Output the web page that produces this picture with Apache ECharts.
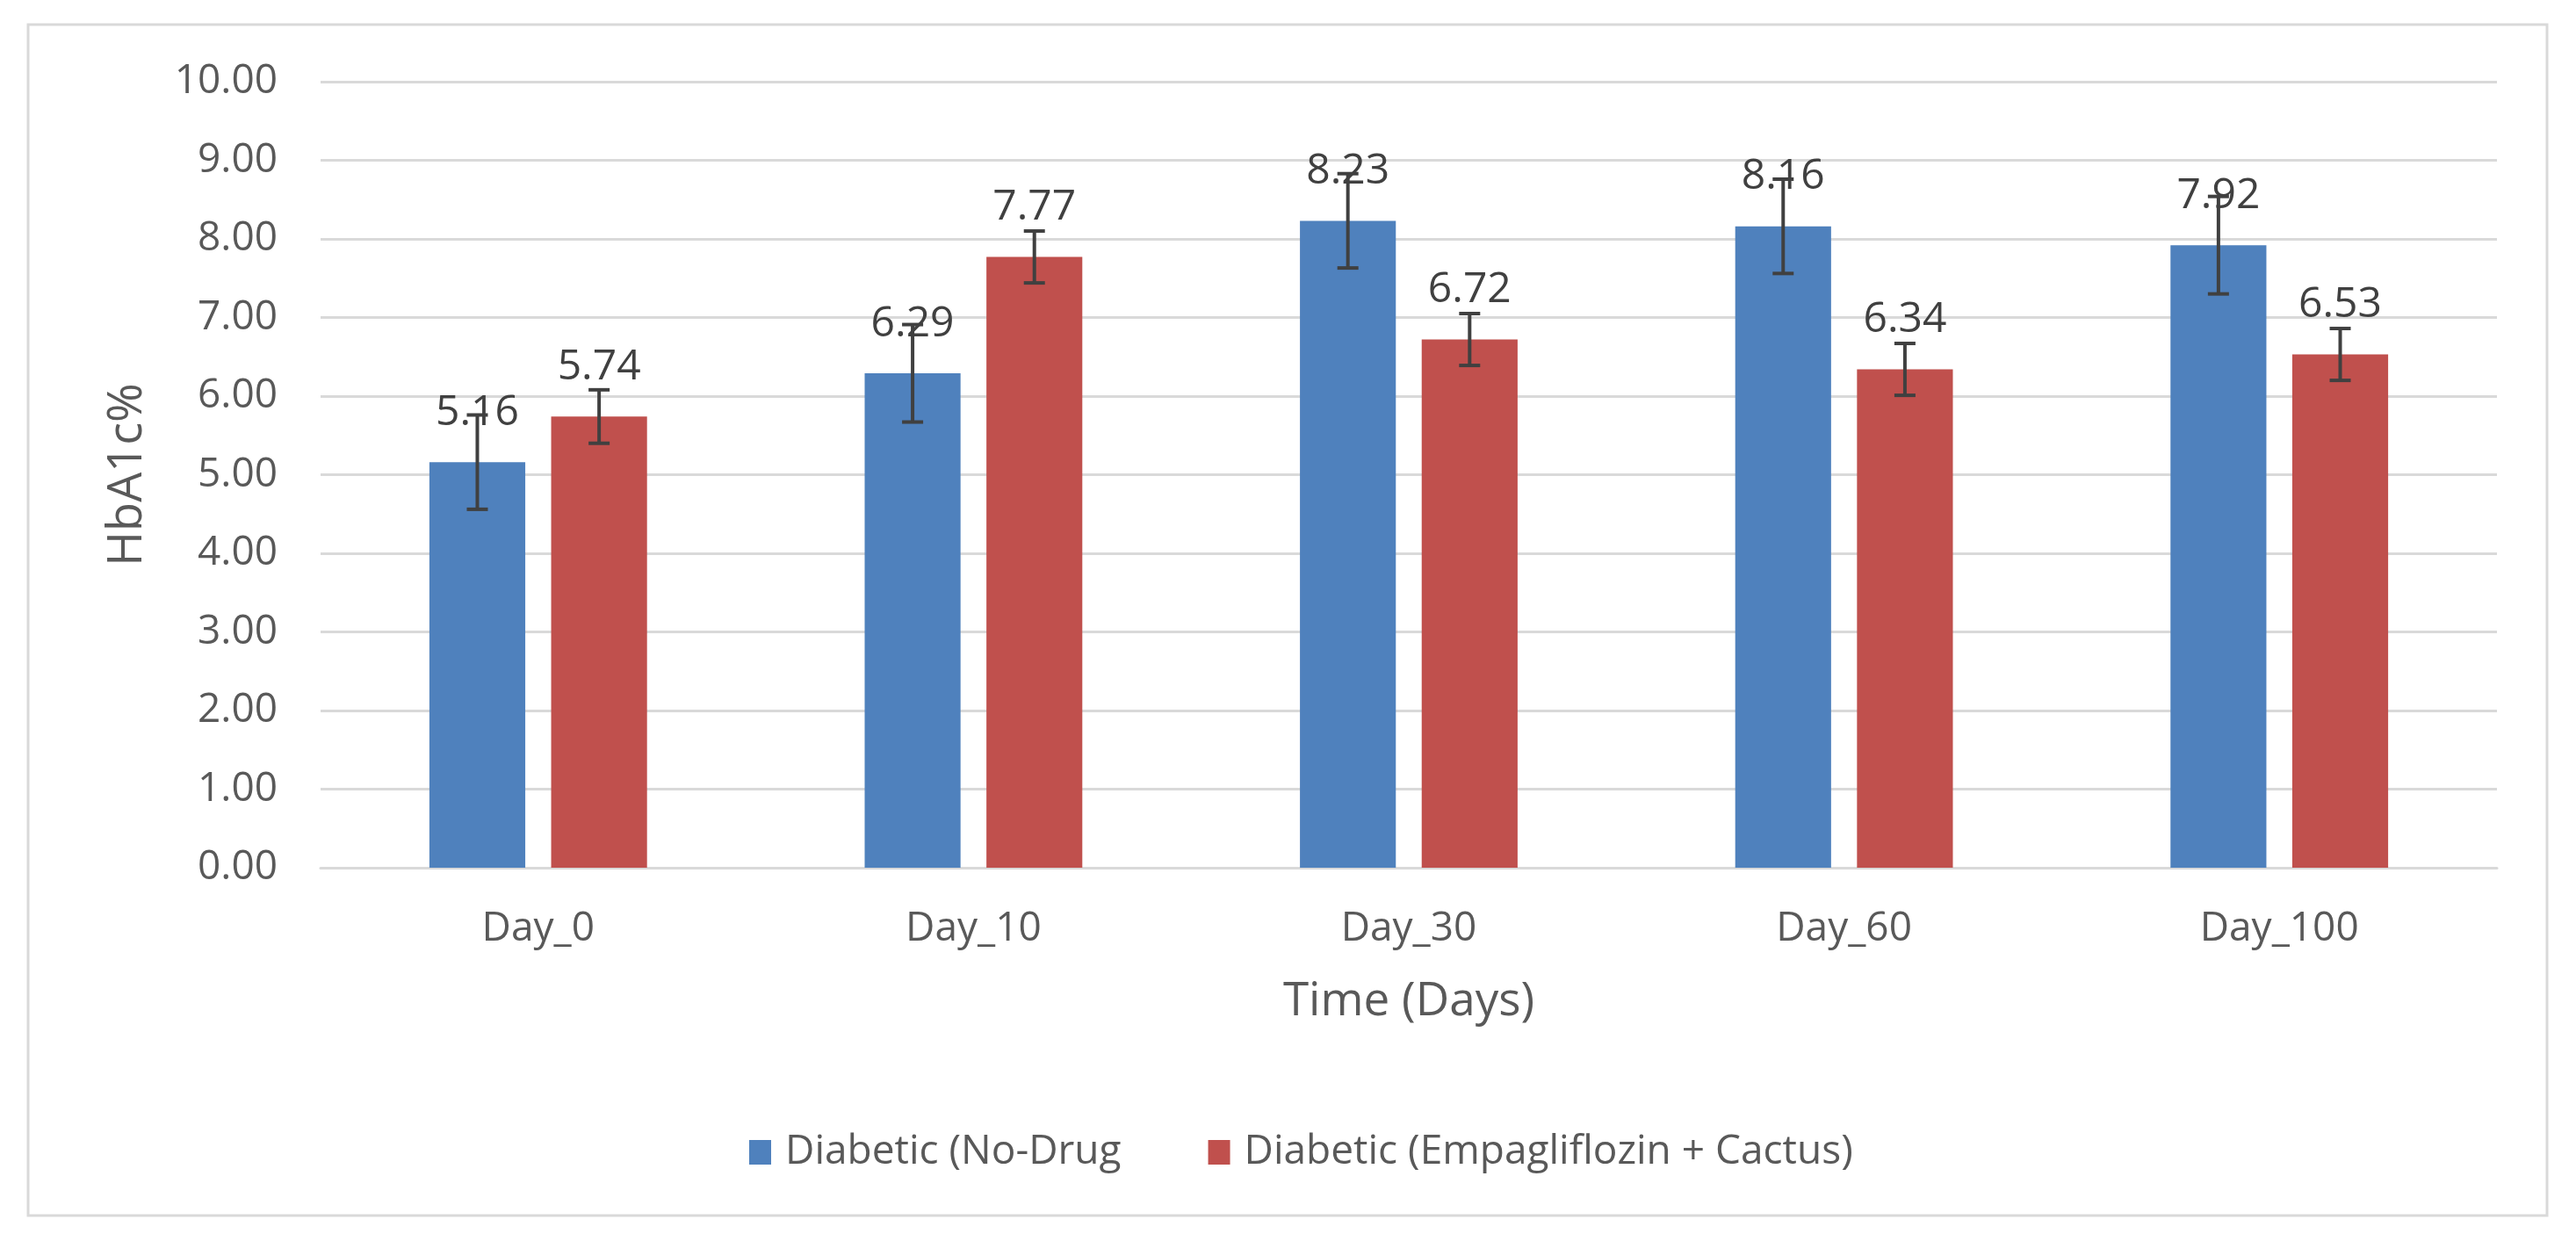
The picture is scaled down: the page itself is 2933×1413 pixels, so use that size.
<!DOCTYPE html>
<html>
<head>
<meta charset="utf-8">
<script src="https://cdn.jsdelivr.net/npm/echarts@6/dist/echarts.min.js"></script>
<style>
html,body{margin:0;padding:0;background:#fff;}
#c{width:2933px;height:1413px;}
</style>
</head>
<body>
<div id="c"></div>
<script>
const categories = ['Day_0', 'Day_10', 'Day_30', 'Day_60', 'Day_100'];
const seriesNames = ['Diabetic (No-Drug', 'Diabetic (Empagliflozin + Cactus)'];
const noDrug = [5.16, 6.29, 8.23, 8.16, 7.92];
const empaCactus = [5.74, 7.77, 6.72, 6.34, 6.53];
const noDrugErr = [0.60, 0.62, 0.60, 0.60, 0.62];
const empaCactusErr = [0.34, 0.33, 0.33, 0.33, 0.33];
const yTicks = { min: 0, max: 10, interval: 1 };

const colors = ['#4F81BD', '#C0504D'];
const CAT_GAP = 0.5, BAR_GAP = 0.27;
const FONT = 'Open Sans';

function errData(vals, errs) {
  return vals.map((v, i) => [i, v - errs[i], v + errs[i]]);
}

function errSeries(vals, errs, sIdx) {
  return {
    type: 'custom',
    z: 10,
    silent: true,
    data: errData(vals, errs),
    encode: { x: 0, y: [1, 2] },
    renderItem: function (params, api) {
      const idx = api.value(0);
      const band = api.size([1, 0])[0];
      const usable = band * (1 - CAT_GAP);
      const bw = usable / (2 + BAR_GAP);
      const off = (sIdx === 0 ? -1 : 1) * (bw + bw * BAR_GAP) / 2;
      const lo = api.coord([idx, api.value(1)]);
      const hi = api.coord([idx, api.value(2)]);
      const x = lo[0] + off;
      const cap = 12;
      const style = { stroke: '#404040', lineWidth: 4 };
      return {
        type: 'group',
        children: [
          { type: 'line', shape: { x1: x, y1: lo[1], x2: x, y2: hi[1] }, style: style },
          { type: 'line', shape: { x1: x - cap, y1: lo[1], x2: x + cap, y2: lo[1] }, style: style },
          { type: 'line', shape: { x1: x - cap, y1: hi[1], x2: x + cap, y2: hi[1] }, style: style }
        ]
      };
    }
  };
}

const chart = echarts.init(document.getElementById('c'), null, { renderer: 'canvas' });
chart.setOption({
  animation: false,
  backgroundColor: '#fff',
  textStyle: { fontFamily: FONT },
  graphic: [{
    type: 'rect',
    shape: { x: 32, y: 28, width: 2868, height: 1356 },
    style: { fill: 'none', stroke: '#D9D9D9', lineWidth: 3 },
    silent: true
  }],
  grid: { left: 365, right: 90, top: 93, bottom: 425, containLabel: false },
  legend: {
    left: 848,
    top: 1284,
    itemWidth: 25,
    itemHeight: 28,
    itemGap: 99,
    icon: 'rect',
    data: seriesNames,
    textStyle: { fontFamily: FONT, fontSize: 46, color: '#595959', padding: [0, 0, 0, 11] }
  },
  xAxis: {
    type: 'category',
    data: categories,
    name: 'Time (Days)',
    nameLocation: 'middle',
    nameGap: 126,
    nameTextStyle: { fontFamily: FONT, fontSize: 53, color: '#595959' },
    axisLine: { lineStyle: { color: '#D9D9D9', width: 3 } },
    axisTick: { show: false },
    axisLabel: { fontFamily: FONT, fontSize: 46, color: '#595959', margin: 47 }
  },
  yAxis: {
    type: 'value',
    min: yTicks.min,
    max: yTicks.max,
    interval: yTicks.interval,
    name: 'HbA1c%',
    nameLocation: 'middle',
    nameGap: 192,
    nameTextStyle: { fontFamily: FONT, fontSize: 54, color: '#595959' },
    axisLine: { show: false },
    axisTick: { show: false },
    splitLine: { lineStyle: { color: '#D9D9D9', width: 3 } },
    axisLabel: {
      fontFamily: FONT, fontSize: 46, color: '#595959', margin: 49,
      formatter: v => v.toFixed(2)
    }
  },
  series: [
    {
      name: seriesNames[0], type: 'bar', data: noDrug,
      barCategoryGap: '50%', barGap: '27%',
      itemStyle: { color: colors[0] },
      label: { show: true, position: 'top', distance: 32, fontFamily: FONT, fontSize: 48, color: '#404040', formatter: p => p.value.toFixed(2) }
    },
    {
      name: seriesNames[1], type: 'bar', data: empaCactus,
      barCategoryGap: '50%', barGap: '27%',
      itemStyle: { color: colors[1] },
      label: { show: true, position: 'top', distance: 32, fontFamily: FONT, fontSize: 48, color: '#404040', formatter: p => p.value.toFixed(2) }
    },
    errSeries(noDrug, noDrugErr, 0),
    errSeries(empaCactus, empaCactusErr, 1)
  ]
});
</script>
</body>
</html>
